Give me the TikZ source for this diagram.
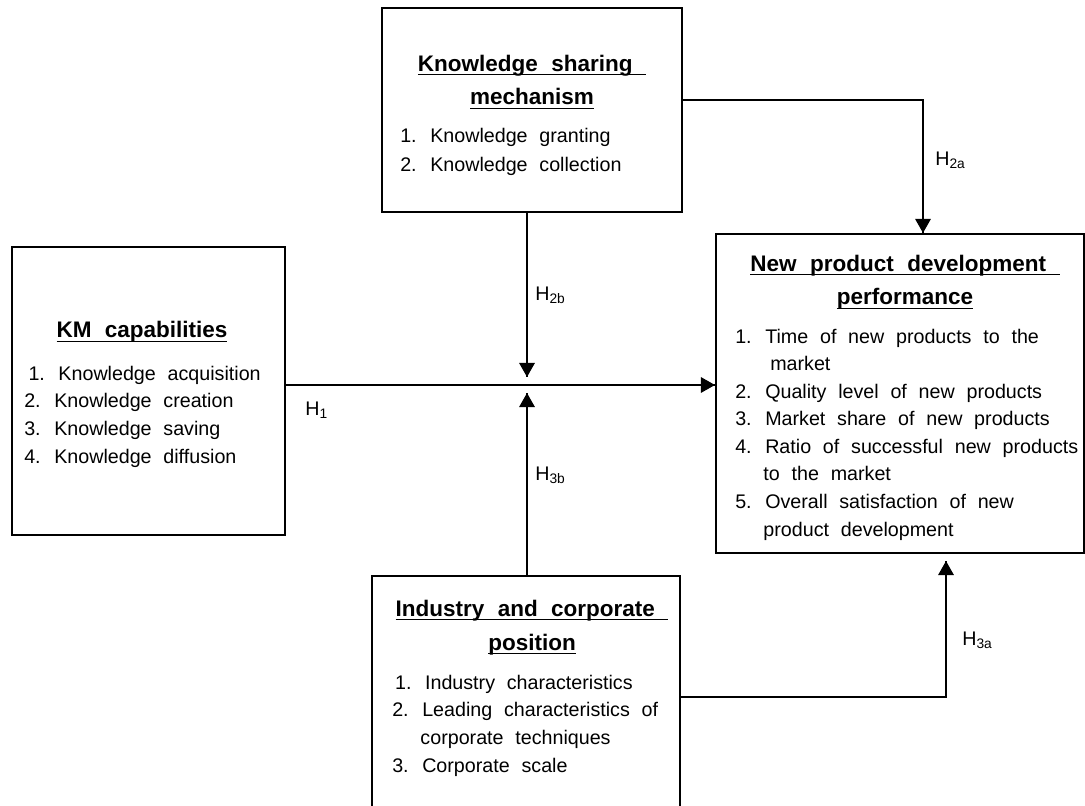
\documentclass[tikz,border=0pt]{standalone}
\usepackage{fontspec}
\setmainfont[WordSpace=2.15]{Liberation Sans}
\usetikzlibrary{arrows.meta}
\usetikzlibrary{decorations.markings}
\newcommand{\titleul}[1]{\setbox0=\hbox{#1}\leavevmode\rlap{\rule[-3pt]{\wd0}{0.8pt}}\copy0}
\tikzset{hyparrow/.style = {line width=1.2pt, decoration={markings,
                                  mark=at position 1 with {\arrow{Triangle[length=10pt,width=11pt]}}},
                      postaction={decorate}}}
\tikzset{varbox/.style={draw, line width=1.4pt, rectangle, inner sep=0}}
\tikzset{vartitle/.style={font=\fontsize{16}{24}\selectfont\bfseries, align=center, inner sep=0, anchor=base}}
\tikzset{varlist/.style={font=\fontsize{14}{19.6}\selectfont, align=left, inner sep=0, anchor=base west}}
\tikzset{hlabel/.style={font=\fontsize{14}{16}\selectfont, inner sep=0, anchor=west}}

\begin{document}
\begin{tikzpicture}[x=0.025cm, y=-0.025cm]
      \useasboundingbox (0,0) rectangle (1085,806);

      \node [varbox, minimum width=7.5cm, minimum height=5.1cm] (ksm) at (532,110) {};
      \node [varbox, minimum width=6.825cm, minimum height=7.2cm] (km) at (148.5,391) {};
      \node [varbox, minimum width=9.2cm, minimum height=7.975cm] (npd) at (900,393.5) {};
      \node [varbox, minimum width=7.7cm, minimum height=5.9cm] (icp) at (526,694) {};

      \node [vartitle] (ksmtitle) at (532,105) {\titleul{Knowledge sharing\ }\\ \titleul{mechanism}};
      \node [varlist] (ksmlist) at (400,172) {1. Knowledge granting\\[1.5pt] 2. Knowledge collection};

      \node [vartitle] (kmtitle) at (142,338) {\titleul{KM capabilities}};
      \node [varlist] (kmlist) at (24,463) {\hspace*{3pt}1. Knowledge acquisition\\ 2. Knowledge creation\\
                                             3. Knowledge saving\\ 4. Knowledge diffusion};

      \node [vartitle] (npdtitle) at (905,305) {\titleul{New product development\ }\\ \titleul{performance}};
      \node [varlist] (npdlist) at (735,536) {1. Time of new products to the\\ \hspace*{0.875cm}market\\
                                               2. Quality level of new products\\ 3. Market share of new products\\
                                               4. Ratio of successful new products\\ \phantom{4.}\ to the market\\
                                               5. Overall satisfaction of new\\ \phantom{5.}\ product development};

      \node [vartitle] (icptitle) at (532,650) {\titleul{Industry and corporate\ }\\ \titleul{position}};
      \node [varlist] (icplist) at (392,772) {\hspace*{2pt}1. Industry characteristics\\ 2. Leading characteristics of\\
                                               \phantom{2.}\ corporate techniques\\ 3. Corporate scale};

      \coordinate (h1line) at (527,385);
      \coordinate (h2bend) at (527,377);
      \coordinate (h3bend) at (527,393);
      \coordinate (h2acorner) at (923,100);
      \coordinate (h3acorner) at (946,697);
      \coordinate (h3atip) at (946,561);

      \draw [hyparrow] (km.east |- h1line) -- (npd.west |- h1line);
      \draw [hyparrow] (h2bend |- ksm.south) -- (h2bend);
      \draw [hyparrow] (h3bend |- icp.north) -- (h3bend);
      \draw [hyparrow] (ksm.east |- h2acorner) -- (h2acorner) -- (h2acorner |- npd.north);
      \draw [hyparrow] (icp.east |- h3acorner) -- (h3acorner) -- (h3atip);

      \node [hlabel] (h1) at (305,410) {H\textsubscript{1}};
      \node [hlabel] (h2a) at (935,160) {H\textsubscript{2a}};
      \node [hlabel] (h2b) at (535,295) {H\textsubscript{2b}};
      \node [hlabel] (h3a) at (962,640) {H\textsubscript{3a}};
      \node [hlabel] (h3b) at (535,475) {H\textsubscript{3b}};
    \end{tikzpicture}
\end{document}
